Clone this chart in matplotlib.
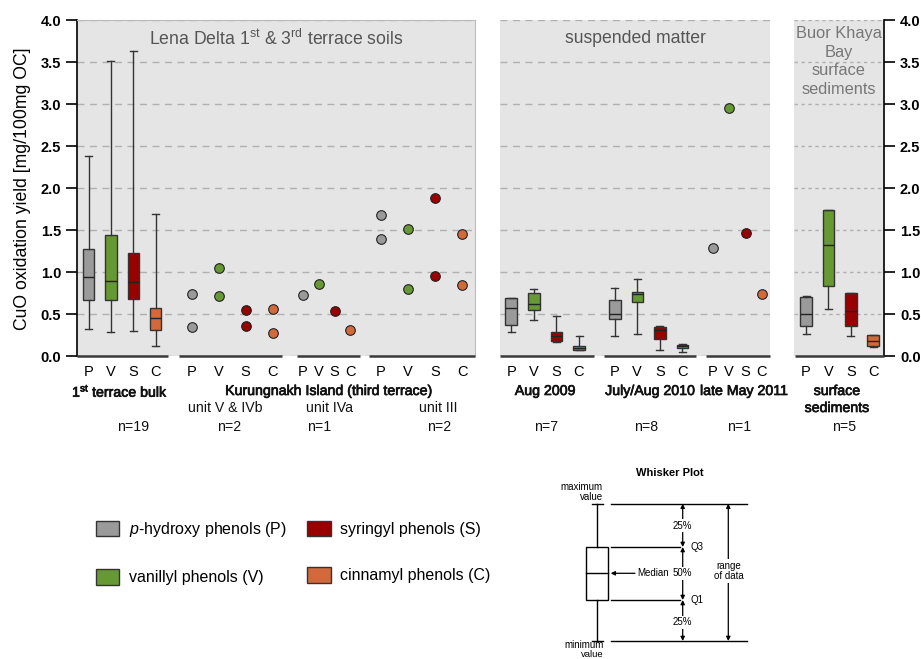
import numpy as np
import matplotlib
matplotlib.use("Agg")
import matplotlib.pyplot as plt
import matplotlib.patheffects as pe
from matplotlib.patches import Patch, Rectangle

plt.rcParams['font.family'] = ['Liberation Sans', 'DejaVu Sans']
plt.rcParams['mathtext.fontset'] = 'custom'
plt.rcParams['mathtext.rm'] = 'Liberation Sans'
plt.rcParams['mathtext.it'] = 'Liberation Sans:italic'
plt.rcParams['mathtext.bf'] = 'Liberation Sans:bold'

# ---- data (CuO oxidation yield, mg/100mg OC) ----
phenols = ["P", "V", "S", "C"]
phenol_names = [r"$\it{p}$-hydroxy phenols (P)", "vanillyl phenols (V)",
                "syringyl phenols (S)", "cinnamyl phenols (C)"]
phenol_colors = ["#9a9a9a", "#669933", "#990000", "#d2693a"]

# box stats per phenol: [min, Q1, median, Q3, max]
bulk_1st_terrace = [[0.33, 0.67, 0.94, 1.28, 2.38],
                    [0.29, 0.67, 0.90, 1.44, 3.51],
                    [0.30, 0.68, 0.88, 1.23, 3.63],
                    [0.13, 0.32, 0.46, 0.58, 1.69]]
susp_aug_2009 = [[0.29, 0.38, 0.575, 0.69, 0.70],
                 [0.43, 0.55, 0.62, 0.76, 0.80],
                 [0.17, 0.19, 0.245, 0.29, 0.48],
                 [0.08, 0.08, 0.10, 0.12, 0.24]]
susp_jul_aug_2010 = [[0.24, 0.44, 0.51, 0.67, 0.81],
                     [0.27, 0.65, 0.74, 0.77, 0.92],
                     [0.08, 0.21, 0.31, 0.345, 0.36],
                     [0.05, 0.10, 0.12, 0.14, 0.15]]
buor_khaya_sed = [[0.27, 0.36, 0.51, 0.71, 0.72],
                  [0.56, 0.84, 1.33, 1.74, 1.74],
                  [0.245, 0.36, 0.54, 0.75, 0.76],
                  [0.11, 0.13, 0.19, 0.26, 0.26]]

# single samples per phenol
kur_unit_v_ivb = [[0.745, 0.35], [1.05, 0.72], [0.55, 0.36], [0.56, 0.28]]
kur_unit_iva = [[0.73], [0.86], [0.54], [0.32]]
kur_unit_iii = [[1.68, 1.40], [1.52, 0.80], [1.89, 0.96], [1.46, 0.85]]
susp_late_may_2011 = [[1.29], [2.95], [1.47], [0.74]]

# ---- layout, in reference pixels ----
W, H = 921, 659
Y_TOP, Y_BASE = 20, 356.5
BG = "#e5e5e5"
EDGE = "#333333"


def fx(px):
    return px / W


def fy(py):
    return 1 - py / H


fig = plt.figure(figsize=(W / 100, H / 100), dpi=100)


def make_panel(left, right):
    ax = fig.add_axes([fx(left), fy(Y_BASE), (right - left) / W, (Y_BASE - Y_TOP) / H])
    ax.set_xlim(left, right)
    ax.set_ylim(0, 4)
    ax.set_facecolor(BG)
    ax.set_yticks(np.arange(0, 4.01, 0.5))
    ax.yaxis.grid(True, ls=(0, (5, 4)), color="#b0b0b0", lw=1)
    ax.set_axisbelow(True)
    ax.spines["bottom"].set_visible(False)
    ax.tick_params(axis="x", length=0, pad=6, labelsize=10.5)
    return ax


def draw_boxes(ax, stats, first, step):
    pos = [first + i * step for i in range(4)]
    bxp_stats = [dict(whislo=s[0], q1=s[1], med=s[2], q3=s[3], whishi=s[4]) for s in stats]
    parts = ax.bxp(bxp_stats, positions=pos, widths=11.5, patch_artist=True,
                   showfliers=False, capwidths=7, manage_ticks=False,
                   boxprops=dict(edgecolor=EDGE, lw=1),
                   medianprops=dict(color="#222222", lw=1),
                   whiskerprops=dict(color=EDGE, lw=1),
                   capprops=dict(color=EDGE, lw=1))
    for box, col in zip(parts["boxes"], phenol_colors):
        box.set_facecolor(col)
    return pos


def draw_points(ax, values, first, step):
    pos = [first + i * step for i in range(4)]
    for x, vals, col in zip(pos, values, phenol_colors):
        ax.scatter([x] * len(vals), vals, s=48, color=col, edgecolors="#222222",
                   linewidths=0.8, zorder=3)
    return pos


def base_segment(ax, x0, x1):
    ax.plot([x0, x1], [0, 0], color="#3a3a3a", lw=1.8, clip_on=False,
            solid_capstyle="butt", zorder=4)


# ---- panel 1: Lena Delta soils ----
ax1 = make_panel(77, 475)
ticks = []
ticks += draw_boxes(ax1, bulk_1st_terrace, 88.5, 22.4)
ticks += draw_points(ax1, kur_unit_v_ivb, 191.7, 27.0)
ticks += draw_points(ax1, kur_unit_iva, 303.0, 15.8)
ticks += draw_points(ax1, kur_unit_iii, 380.7, 27.2)
ax1.set_xticks(ticks, phenols * 4)
for seg in [(77, 168), (179, 282), (297, 360), (369, 475)]:
    base_segment(ax1, *seg)
for s in ["top", "right"]:
    ax1.spines[s].set_color("#bbbbbb")
ax1.spines["left"].set_color("black")
ax1.spines["left"].set_linewidth(1.2)
ax1.tick_params(axis="y", direction="out", length=8, width=1.2, labelsize=10.5)
for lab in ax1.get_yticklabels():
    lab.set_fontweight("bold")
ax1.set_ylabel("CuO oxidation yield [mg/100mg OC]", fontsize=12.7, labelpad=7)
ax1.text(0.5, 0.945, r"Lena Delta 1$^{\mathrm{st}}$ & 3$^{\mathrm{rd}}$ terrace soils",
         transform=ax1.transAxes, ha="center", va="center", fontsize=12.7, color="#555555")

# ---- panel 2: suspended matter ----
ax2 = make_panel(500, 770)
ticks = []
ticks += draw_boxes(ax2, susp_aug_2009, 511.2, 22.6)
ticks += draw_boxes(ax2, susp_jul_aug_2010, 614.8, 22.5)
ticks += draw_points(ax2, susp_late_may_2011, 712.7, 16.4)
ax2.set_xticks(ticks, phenols * 3)
for seg in [(500, 594), (604, 696), (706, 770)]:
    base_segment(ax2, *seg)
for s in ["top", "right", "left"]:
    ax2.spines[s].set_visible(False)
ax2.tick_params(axis="y", length=0, labelleft=False)
ax2.text(0.5, 0.945, "suspended matter", transform=ax2.transAxes, ha="center",
         va="center", fontsize=12.7, color="#555555")

# ---- panel 3: Buor Khaya Bay ----
ax3 = make_panel(794, 884)
ticks = draw_boxes(ax3, buor_khaya_sed, 806, 22.4)
ax3.set_xticks(ticks, phenols)
ax3.yaxis.grid(True, ls=(0, (2.5, 2.5)), color="#b0b0b0", lw=1)
base_segment(ax3, 795, 884)
for s in ["top", "left"]:
    ax3.spines[s].set_visible(False)
ax3.spines["right"].set_linewidth(1.2)
ax3.yaxis.tick_right()
ax3.tick_params(axis="y", direction="out", length=8, width=1.2, labelsize=10.5)
for lab in ax3.get_yticklabels():
    lab.set_fontweight("bold")
ax3.text(0.5, 0.877, "Buor Khaya\nBay\nsurface\nsediments", transform=ax3.transAxes,
         ha="center", va="center", fontsize=11.8, color="#777777", linespacing=1.3)

# ---- group labels under the axes ----
group_labels = [
    (120, 391, r"1$^{\mathrm{st}}$ terrace bulk", True),
    (329, 391, "Kurungnakh Island (third terrace)", True),
    (545, 391, "Aug 2009", True),
    (650, 391, "July/Aug 2010", True),
    (744, 391, "late May 2011", True),
    (837, 391, "surface", True),
    (837, 408, "sediments", True),
    (225, 408, "unit V & IVb", False),
    (329, 408, "unit IVa", False),
    (438, 408, "unit III", False),
    (133, 427, "n=19", False), (229, 427, "n=2", False),
    (319, 427, "n=1", False), (439, 427, "n=2", False),
    (546, 427, "n=7", False), (646, 427, "n=8", False),
    (739, 427, "n=1", False), (844, 427, "n=5", False),
]
medium = [pe.withStroke(linewidth=0.5, foreground="#111111")]
for x, y, txt, strong in group_labels:
    t = fig.text(fx(x), fy(y), txt, ha="center", va="center", fontsize=10.2,
                 color="#111111")
    if strong:
        t.set_path_effects(medium)

# ---- legend ----
handles = [Patch(facecolor=c, edgecolor=EDGE, lw=1) for c in phenol_colors]
fig.legend(handles, phenol_names, loc="upper left", bbox_to_anchor=(fx(96), fy(520)),
           ncol=2, frameon=False, fontsize=11.5, handlelength=1.45, handleheight=1.1,
           handletextpad=0.6, labelspacing=1.9, columnspacing=1.3,
           borderaxespad=0, borderpad=0)

# ---- whisker plot explanation ----
wax = fig.add_axes([fx(540), fy(659), 240 / W, 199 / H])
wax.set_xlim(540, 780)
wax.set_ylim(659, 460)
wax.axis("off")
k = dict(color="black", lw=1)
y_max, y_q3, y_med, y_q1, y_min = 503.7, 547, 573.3, 600, 641
wx = 597.3
wax.text(670, 473, "Whisker Plot", ha="center", va="center", fontsize=8, fontweight="bold")
wax.plot([wx, wx], [y_max, y_q3], **k)
wax.plot([wx, wx], [y_q1, y_min], **k)
wax.plot([592, 603], [y_max, y_max], **k)
wax.plot([592, 603], [y_min, y_min], **k)
wax.add_patch(Rectangle((586, y_q3), 22.3, y_q1 - y_q3, fill=False, **k))
wax.plot([586, 608.3], [y_med, y_med], **k)
wax.plot([610.7, 746.7], [y_max, y_max], **k)
wax.plot([610.7, 746.7], [y_min, y_min], **k)
wax.plot([610.7, 680], [y_q3, y_q3], **k)
wax.plot([610.7, 680], [y_q1, y_q1], **k)
arr = dict(arrowstyle="<|-|>", color="black", lw=0.9, mutation_scale=6,
           shrinkA=0, shrinkB=0)
for y0, y1 in [(y_max, y_q3), (y_q3, y_q1), (y_q1, y_min)]:
    wax.annotate("", xy=(682.7, y0), xytext=(682.7, y1), arrowprops=arr)
wax.annotate("", xy=(728.3, y_max), xytext=(728.3, y_min), arrowprops=arr)
wax.annotate("", xy=(610.7, y_med), xytext=(635, y_med),
             arrowprops=dict(arrowstyle="-|>", color="black", lw=0.9,
                             mutation_scale=6, shrinkA=0, shrinkB=0))
wbox = dict(facecolor="white", edgecolor="none", pad=1)
small = dict(fontsize=7, va="center")
wax.text(682.7, 525.7, "25%", ha="center", bbox=wbox, **small)
wax.text(682.7, y_med, "50%", ha="center", bbox=wbox, **small)
wax.text(682.7, 622.3, "25%", ha="center", bbox=wbox, **small)
wax.text(690, y_q3, "Q3", ha="left", **small)
wax.text(690, y_q1, "Q1", ha="left", **small)
wax.text(637, y_med, "Median", ha="left", **small)
wax.text(729, 571, "range\nof data", ha="center", bbox=wbox, linespacing=1.1, **small)
wax.text(603, 492, "maximum\nvalue", ha="right", multialignment="right", linespacing=1.0, **small)
wax.text(604, 644.5, "minimum", ha="right", **small)
wax.text(604, 654.5, "value", ha="right", fontsize=6.8, va="center")

fig.savefig("out.png", dpi=100)
